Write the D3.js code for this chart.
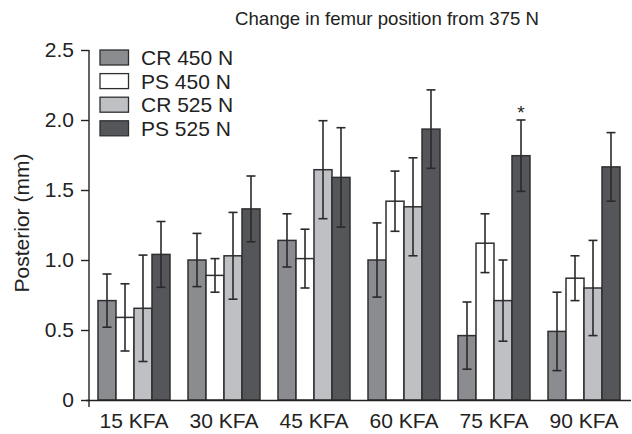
<!DOCTYPE html>
<html>
<head>
<meta charset="utf-8">
<script src="https://cdn.jsdelivr.net/npm/d3@7/dist/d3.min.js"></script>
<style>
  html, body { margin: 0; padding: 0; background: #fff; }
  svg { display: block; font-family: "Liberation Sans", Arial, Helvetica, sans-serif; }
</style>
</head>
<body>
<svg id="chart" width="632" height="434"></svg>
<script>
const categories = ["15 KFA", "30 KFA", "45 KFA", "60 KFA", "75 KFA", "90 KFA"];
const seriesNames = ["CR 450 N", "PS 450 N", "CR 525 N", "PS 525 N"];
const cr450 = [0.71, 1.00, 1.14, 1.00, 0.46, 0.49];
const ps450 = [0.59, 0.89, 1.01, 1.42, 1.12, 0.87];
const cr525 = [0.655, 1.03, 1.645, 1.38, 0.71, 0.80];
const ps525 = [1.04, 1.365, 1.59, 1.935, 1.745, 1.665];
const cr450Err = [0.19, 0.19, 0.19, 0.265, 0.24, 0.28];
const ps450Err = [0.24, 0.12, 0.21, 0.215, 0.21, 0.16];
const cr525Err = [0.38, 0.31, 0.35, 0.35, 0.29, 0.34];
const ps525Err = [0.235, 0.235, 0.355, 0.28, 0.255, 0.245];
const yTicks = [0, 0.5, 1.0, 1.5, 2.0, 2.5];
const yTickLabels = ["0", "0.5", "1.0", "1.5", "2.0", "2.5"];
const significant = [{ category: "75 KFA", series: 3 }];
const title = "Change in femur position from 375 N";
const yTitle = "Posterior (mm)";

const colors = ["#8b8c90", "#ffffff", "#bfc0c4", "#55565a"];
const values = [cr450, ps450, cr525, ps525];
const errors = [cr450Err, ps450Err, cr525Err, ps525Err];

const svg = d3.select("#chart");
const x0 = d3.scaleBand().domain(categories).range([89, 629]).paddingInner(0.2).paddingOuter(0.1);
const x1 = d3.scaleBand().domain(d3.range(seriesNames.length)).range([0, x0.bandwidth()]).padding(0);
const y = d3.scaleLinear().domain([0, 2.5]).range([400, 50]);

const data = [];
categories.forEach((c, i) => {
  seriesNames.forEach((s, j) => {
    data.push({ cat: c, s: j, v: values[j][i], e: errors[j][i] });
  });
});

// bars
svg.append("g").selectAll("rect").data(data).join("rect")
  .attr("x", d => x0(d.cat) + x1(d.s))
  .attr("y", d => y(d.v))
  .attr("width", x1.bandwidth())
  .attr("height", d => y(0) - y(d.v))
  .attr("fill", d => colors[d.s])
  .attr("stroke", "#2f2f31")
  .attr("stroke-width", 1.5);

// error bars
const eg = svg.append("g").attr("stroke", "#2a2a2c").attr("stroke-width", 1.6);
const capW = 4.5;
data.forEach(d => {
  const cx = x0(d.cat) + x1(d.s) + x1.bandwidth() / 2;
  eg.append("line").attr("x1", cx).attr("x2", cx).attr("y1", y(d.v + d.e)).attr("y2", y(d.v - d.e));
  eg.append("line").attr("x1", cx - capW).attr("x2", cx + capW).attr("y1", y(d.v + d.e)).attr("y2", y(d.v + d.e));
  eg.append("line").attr("x1", cx - capW).attr("x2", cx + capW).attr("y1", y(d.v - d.e)).attr("y2", y(d.v - d.e));
});

// significance
significant.forEach(sg => {
  const i = categories.indexOf(sg.category);
  const v = values[sg.series][i] + errors[sg.series][i];
  svg.append("text")
    .attr("x", x0(sg.category) + x1(sg.series) + x1.bandwidth() / 2)
    .attr("y", y(v) - 1)
    .attr("text-anchor", "middle")
    .attr("font-size", 19)
    .attr("fill", "#222")
    .text("*");
});

// y axis
const yAxis = d3.axisLeft(y).tickValues(yTicks).tickFormat((d, i) => yTickLabels[i]).tickSize(8).tickPadding(7);
const yg = svg.append("g").attr("transform", "translate(89,0)").call(yAxis);
yg.select(".domain").remove();
yg.append("line").attr("x1", 0).attr("x2", 0).attr("y1", 50).attr("y2", 407).attr("stroke", "#222").attr("stroke-width", 1.4);
yg.selectAll(".tick line").attr("stroke", "#222").attr("stroke-width", 1.4);
yg.selectAll(".tick text").attr("font-size", 21).attr("fill", "#222").attr("font-family", "Liberation Sans, Arial, sans-serif");

// x axis
const xAxis = d3.axisBottom(x0).tickSize(0).tickPadding(12.5);
const xg = svg.append("g").attr("transform", "translate(0,400.5)").call(xAxis);
xg.select(".domain").remove();
xg.append("line").attr("x1", 86).attr("x2", 631).attr("y1", 0).attr("y2", 0).attr("stroke", "#222").attr("stroke-width", 1.4);
xg.selectAll(".tick text").attr("font-size", 21).attr("fill", "#222").attr("font-family", "Liberation Sans, Arial, sans-serif");

// titles
svg.append("text").attr("x", 387).attr("y", 25).attr("text-anchor", "middle")
  .attr("font-size", 18.6).attr("fill", "#222").text(title);
svg.append("text").attr("transform", "translate(29,223) rotate(-90)").attr("text-anchor", "middle")
  .attr("font-size", 21).attr("fill", "#222").text(yTitle);

// legend
const lg = svg.append("g");
seriesNames.forEach((s, j) => {
  const yy = 50 + j * 23.6;
  lg.append("rect").attr("x", 100).attr("y", yy).attr("width", 28.5).attr("height", 15)
    .attr("fill", colors[j]).attr("stroke", "#2f2f31").attr("stroke-width", 1.3);
  lg.append("text").attr("x", 141).attr("y", yy + 15).attr("font-size", 21).attr("fill", "#222").text(s);
});
</script>
</body>
</html>
